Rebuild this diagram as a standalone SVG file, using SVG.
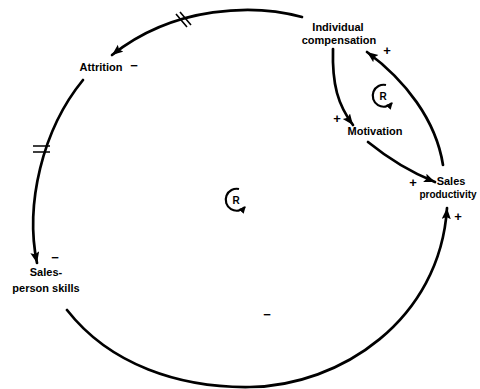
<svg xmlns="http://www.w3.org/2000/svg" width="480" height="389" viewBox="0 0 480 389">
<style>
.lbl{font-family:"Liberation Sans",Arial,sans-serif;font-weight:bold;font-size:11px;fill:#000;text-anchor:middle}
.sign{font-family:"Liberation Sans",Arial,sans-serif;font-weight:bold;font-size:13px;fill:#000;text-anchor:middle}
.link{fill:none;stroke:#000;stroke-width:2.7;stroke-linecap:round}
.hash{fill:none;stroke:#000;stroke-width:1.6}
.loop{fill:none;stroke:#000;stroke-width:2.2}
.rl{font-family:"Liberation Sans",Arial,sans-serif;font-weight:bold;font-size:10px;fill:#000;text-anchor:middle}
</style>
<defs>
<marker id="ah" markerUnits="userSpaceOnUse" markerWidth="12" markerHeight="10" refX="11" refY="4.5" orient="auto">
<path d="M0,0 L11,4.5 L0,9 L2,4.5 z" fill="#000"/>
</marker>
<marker id="ahs" markerUnits="userSpaceOnUse" markerWidth="8" markerHeight="8" refX="6" refY="3.5" orient="auto">
<path d="M0,0 L7,3.5 L0,7 z" fill="#000"/>
</marker>
</defs>
<rect width="480" height="389" fill="#fff"/>
<g id="connectors">
<path class="link" d="M302,17 C255,4 175,5 112,55" marker-end="url(#ah)"/>
<path class="hash" d="M176,14 L187,27 M180,12 L191,25"/>
<path class="link" d="M83,80 C42,130 25,205 37,263" marker-end="url(#ah)"/>
<path class="hash" d="M33,146 L50,146 M33,152 L50,152"/>
<path class="link" d="M67,310 C110,365 180,388 250,387 C340,386 440,320 447,208" marker-end="url(#ah)"/>
<path class="link" d="M333,49 C332,85 338,105 353,125" marker-end="url(#ah)"/>
<path class="link" d="M368,142 Q400,168 435,182" marker-end="url(#ah)"/>
<path class="link" d="M443,165 C436,120 405,80 367,52" marker-end="url(#ah)"/>
<text class="sign" x="134" y="70">−</text>
<text class="sign" x="55" y="262">−</text>
<text class="sign" x="267" y="319">−</text>
<text class="sign" x="387" y="55">+</text>
<text class="sign" x="337" y="123">+</text>
<text class="sign" x="413" y="187">+</text>
<text class="sign" x="458" y="221">+</text>
</g>
<g id="individual-compensation">
<text class="lbl" x="338" y="31">Individual</text>
<text class="lbl" x="339" y="44">compensation</text>
</g>
<g id="attrition">
<text class="lbl" x="101" y="71">Attrition</text>
</g>
<g id="salesperson-skills">
<text class="lbl" x="46" y="276">Sales-</text>
<text class="lbl" x="46" y="292">person skills</text>
</g>
<g id="motivation">
<text class="lbl" x="375" y="135">Motivation</text>
</g>
<g id="sales-productivity">
<text class="lbl" x="451" y="185">Sales</text>
<text class="lbl" x="448" y="198" style="font-size:10px">productivity</text>
</g>
<g id="loop-r-small">
<path class="loop" d="M386,85 A11,11 0 1 0 392,103" marker-end="url(#ahs)"/>
<text class="rl" x="383" y="100">R</text>
</g>
<g id="loop-r-big">
<path class="loop" d="M239,189 A11,11 0 1 0 245,207" marker-end="url(#ahs)"/>
<text class="rl" x="236" y="204">R</text>
</g>
</svg>
